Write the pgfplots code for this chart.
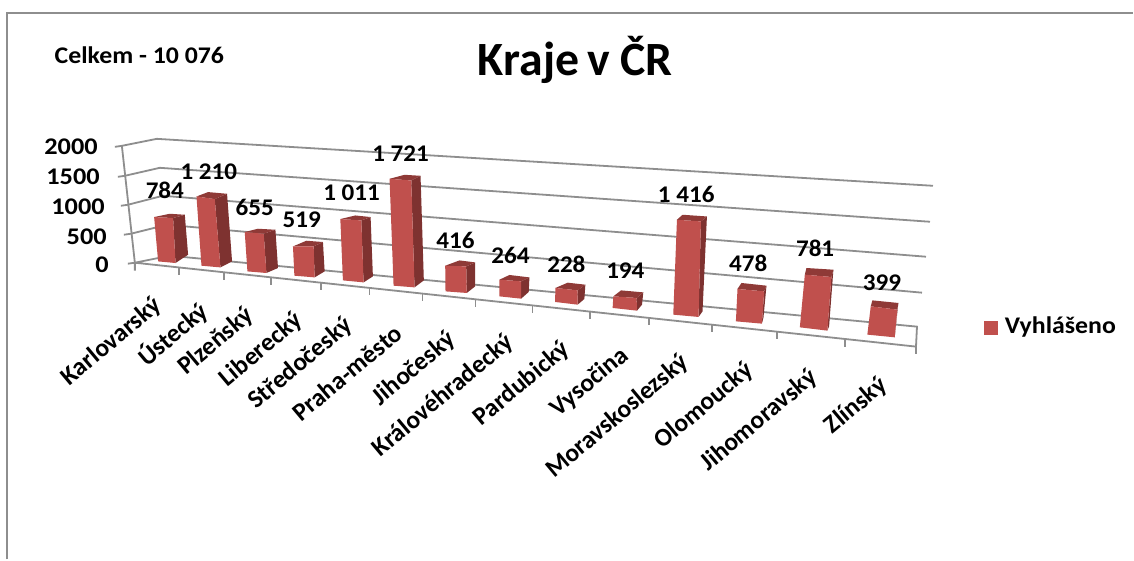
\documentclass[border=0pt]{standalone}
\usepackage{pgfplots}
\pgfplotsset{compat=1.18}
\usepackage{fontspec}
\setmainfont{Carlito}
\definecolor{fr}{HTML}{C0504D}
\definecolor{sd}{HTML}{7E3230}
\definecolor{tp}{HTML}{8F3A37}
\definecolor{gl}{HTML}{8E8E8E}
\newcommand{\threed}[3]{%
  \addplot[fill=sd,draw=none,forget plot] coordinates {#2};
  \addplot[fill=tp,draw=none,forget plot] coordinates {#3};
  \addplot[fill=fr,draw=none,forget plot] coordinates {#1};
}
\newcommand{\gline}[1]{\addplot[gl,line width=1.8bp,forget plot] coordinates {#1};}
\newcommand{\val}[3]{\node[font=\fontsize{24}{24}\selectfont\bfseries,xscale=1.05] at (axis cs:#1,#2) {#3};}
\newcommand{\ytl}[3]{\node[font=\fontsize{24}{24}\selectfont\bfseries,xscale=1.1,anchor=east,inner sep=0pt] at (axis cs:#1,#2) {#3};}
\newcommand{\cat}[3]{\node[font=\fontsize{25.5}{25.5}\selectfont\bfseries,anchor=east,rotate=40,inner sep=0pt] at (axis cs:#1,#2) {#3};}
\begin{document}
\begin{tikzpicture}
\begin{axis}[
  width=1134bp,height=560bp,scale only axis,
  xmin=0,xmax=1134,ymin=0,ymax=560,y dir=reverse,
  hide axis,clip=false]
\addplot[fill=white,draw=none,forget plot] coordinates {(0,0)(1134,0)(1134,560)(0,560)};
% outer frame
\addplot[color=gl,line width=2.5bp,forget plot] coordinates {(7,560)(7,13)(1134,13)};
% gridlines and walls
\gline{(115,147)(122,146)(157,139)(934,186)}
\gline{(118,177)(125,176)(160,168)(931,222)}
\gline{(121,206)(128,205)(163,196)(927,257)}
\gline{(124,235)(131,234)(167,225)(923,293)}
\gline{(128,264)(135,263)(170,256)(918,327)(917,347)(135,263)}
\gline{(122,146)(135,263)(135,271)}
% floor ticks
\gline{(179,268)(179,275)}
\gline{(224,273)(224,280)}
\gline{(271,278)(271,285)}
\gline{(321,283)(321,290)}
\gline{(370,288)(370,295)}
\gline{(423,294)(423,301)}
\gline{(476,300)(476,307)}
\gline{(533,306)(533,313)}
\gline{(591,312)(591,319)}
\gline{(650,318)(650,325)}
\gline{(713,325)(713,332)}
\gline{(778,332)(778,339)}
\gline{(846,340)(846,347)}
\gline{(917,347)(917,354)}
% bars
\threed{(154.3,217.3)(173.3,218.3)(175.7,263.3)(158.3,261.7)}{(173.3,218.3)(185,215)(188.3,255)(175.7,263.3)}{(154.3,217.3)(170,214)(185,215)(173.3,218.3)}
\threed{(196.7,196.7)(215,199.3)(220.7,267.7)(201.7,266)}{(215,199.3)(227.3,194)(232.3,261.7)(220.7,267.7)}{(196.7,196.7)(208.3,192.3)(227.3,194)(215,199.3)}
\threed{(245,232.3)(264,234)(266.7,273.3)(247.7,271.7)}{(264,234)(275.7,230)(278.3,268.3)(266.7,273.3)}{(245,232.3)(258.3,229)(275.7,230)(264,234)}
\threed{(293.3,246.7)(314,246.7)(315,277.7)(294.7,276)}{(314,246.7)(323.3,242.3)(325,271.7)(315,277.7)}{(293.3,246.7)(306.7,241)(323.3,242.3)(314,246.7)}
\threed{(340.7,219.3)(361.7,220.7)(364,282.7)(343.3,280.7)}{(361.7,220.7)(371,217.3)(373.3,276.7)(364,282.7)}{(340.7,219.3)(355.7,215.7)(371,217.3)(361.7,220.7)}
\threed{(390,179)(411.7,180.7)(415,287.7)(394,286)}{(411.7,180.7)(421,176)(424.3,280.7)(415,287.7)}{(390,179)(405,175)(421,176)(411.7,180.7)}
\threed{(445.7,266)(466.7,266.7)(467.3,293.3)(446,291.7)}{(466.7,266.7)(475.7,262.7)(475.7,286.7)(467.3,293.3)}{(445.7,266)(460,260.7)(475.7,262.7)(466.7,266.7)}
\threed{(500,280)(521.7,281.7)(521.7,299)(500,296.7)}{(521.7,281.7)(530,277.7)(529.3,292.3)(521.7,299)}{(500,280)(510,275.3)(530,277.7)(521.7,281.7)}
\threed{(556,288.3)(578.3,290.7)(578.3,305)(555.7,302.3)}{(578.3,290.7)(586,285)(585,299.3)(578.3,305)}{(556,288.3)(568.3,283)(586,285)(578.3,290.7)}
\threed{(614,296.7)(637.3,298.3)(637.7,311)(613.3,308.3)}{(637.3,298.3)(644,292.7)(642.7,305)(637.7,311)}{(614,296.7)(621.7,290.7)(644,292.7)(637.3,298.3)}
\threed{(677.7,220)(701.7,221.7)(699.3,317.3)(674,315)}{(701.7,221.7)(707.7,216.7)(703.3,311.7)(699.3,317.3)}{(677.7,220)(683.3,215)(707.7,216.7)(701.7,221.7)}
\threed{(738.3,289.3)(765,291.7)(762.7,324)(736.7,321.7)}{(765,291.7)(767.3,286)(764.3,318)(762.7,324)}{(738.3,289.3)(742.3,283.3)(767.3,286)(765,291.7)}
\threed{(805.7,275)(832.3,277.3)(828.3,331)(800.7,327.7)}{(832.3,277.3)(834.3,270)(830,326.7)(828.3,331)}{(805.7,275)(807.3,268.3)(834.3,270)(832.3,277.3)}
\threed{(871.7,306.7)(898.3,310)(895.7,337.7)(868.3,335)}{(898.3,310)(899.3,303.3)(896.5,330)(895.7,337.7)}{(871.7,306.7)(873.3,300.7)(899.3,303.3)(898.3,310)}
% legend key
\addplot[fill=fr,draw=none,forget plot] coordinates {(985,321)(999,321)(999,335)(985,335)};
% value labels
\val{165}{191}{784}
\val{209}{172}{1 210}
\val{255}{208}{655}
\val{302}{220}{519}
\val{352}{193}{1 011}
\val{401}{154}{1 721}
\val{456}{241}{416}
\val{511}{256}{264}
\val{567}{265}{228}
\val{626}{271}{194}
\val{687}{195}{1 416}
\val{749}{264}{478}
\val{816}{249}{781}
\val{883}{283}{399}
% y tick labels
\ytl{98}{147}{2000}
\ytl{100}{177}{1500}
\ytl{105}{207}{1000}
\ytl{107}{237}{500}
\ytl{109}{265}{0}
% category labels
\cat{159}{303}{Karlovarský}
\cat{205}{308}{Ústecký}
\cat{251}{313}{Plzeňský}
\cat{300}{318}{Liberecký}
\cat{350}{323}{Středočeský}
\cat{399}{330}{Praha-město}
\cat{453}{337}{Jihočeský}
\cat{511}{340}{Královéhradecký}
\cat{567}{347}{Pardubický}
\cat{626}{353}{Vysočina}
\cat{686}{360}{Moravskoslezský}
\cat{751}{368}{Olomoucký}
\cat{815}{375}{Jihomoravský}
\cat{885}{383}{Zlínský}
% legend text, title, note
\node[font=\fontsize{24}{24}\selectfont\bfseries,anchor=center,xscale=1.08,inner sep=0pt] at (axis cs:1061.5,327) {Vyhlášeno};
\node[font=\fontsize{48}{48}\selectfont\bfseries] at (axis cs:576,60) {Kraje\hspace{-3pt} v ČR};
\node[font=\fontsize{24}{24}\selectfont\bfseries,xscale=1.08] at (axis cs:139.5,55) {Celkem - 10 076};
\end{axis}
\end{tikzpicture}
\end{document}
